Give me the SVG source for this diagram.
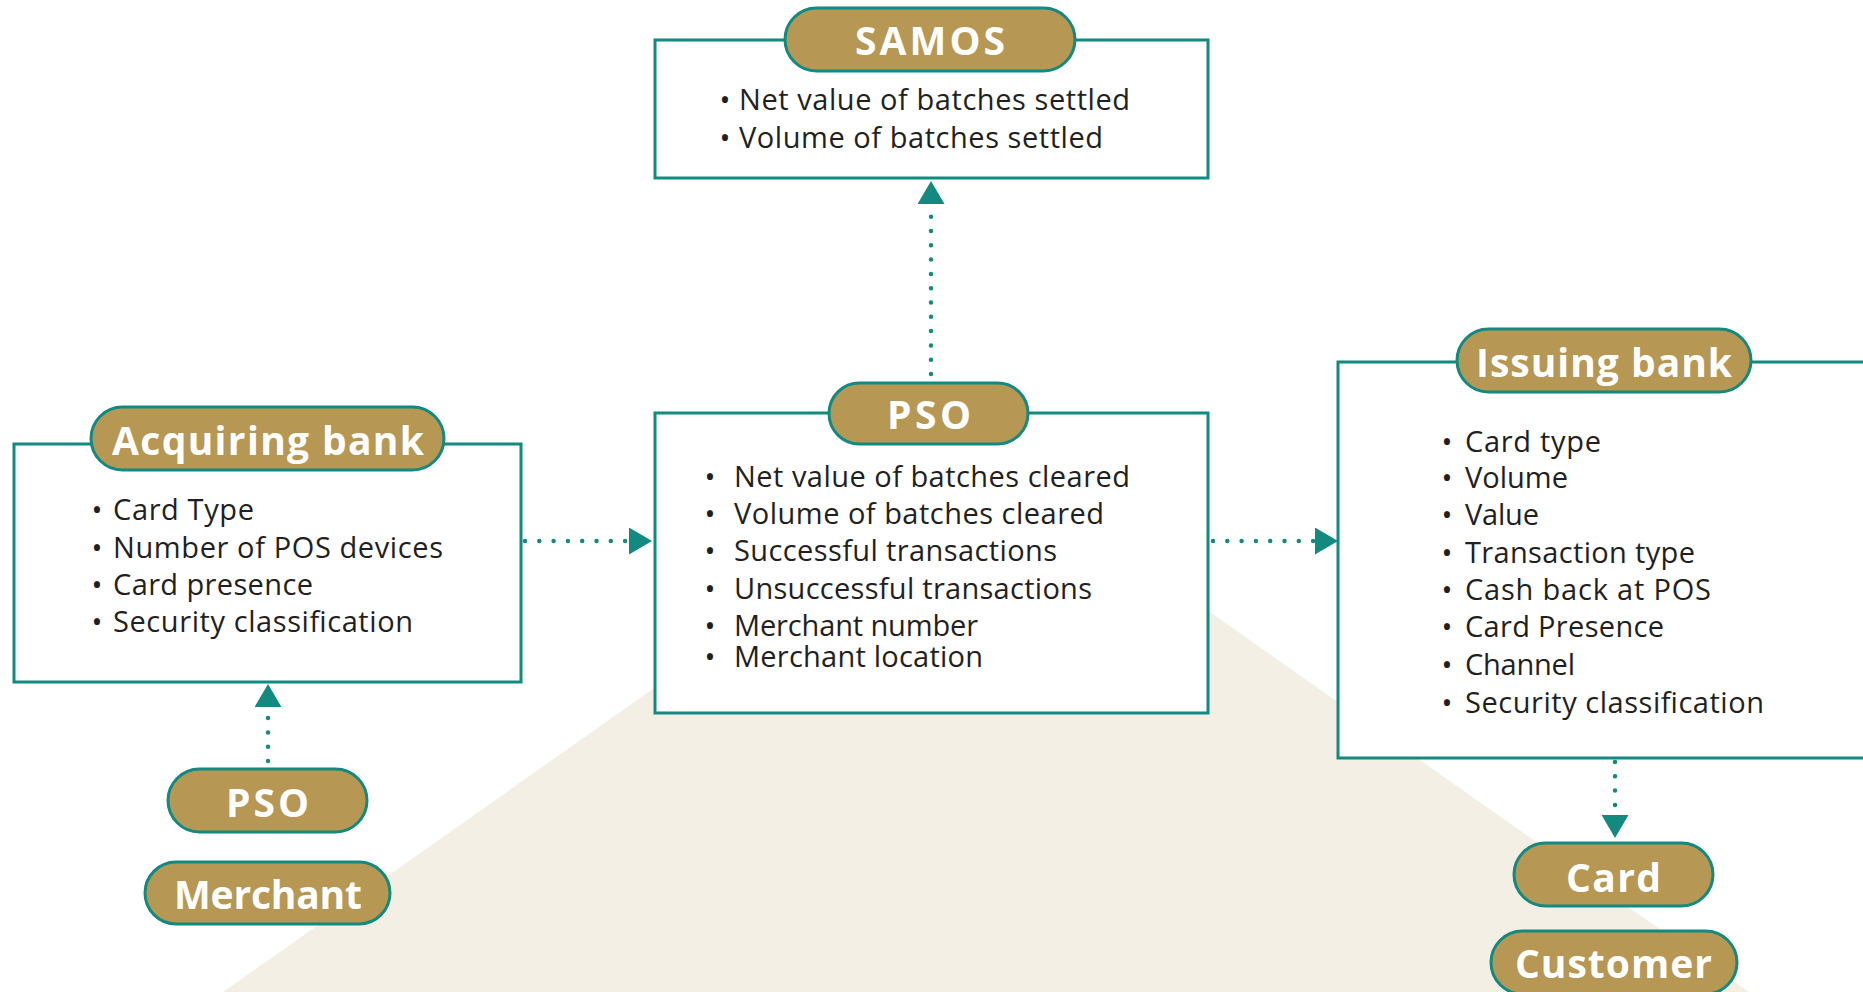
<svg xmlns="http://www.w3.org/2000/svg" width="1863" height="992" viewBox="0 0 1863 992">
<defs>
<style>
.box{fill:#ffffff;stroke:#138a80;stroke-width:3}
.pill{fill:#b69753;stroke:#138a80;stroke-width:3}
.title{font-family:"Open Sans","Liberation Sans",sans-serif;font-weight:700;font-size:39px;fill:#ffffff}
.item{font-family:"Open Sans","Liberation Sans",sans-serif;font-size:29px;fill:#231f20}
.bul{font-family:"Open Sans","Liberation Sans",sans-serif;font-size:29px;fill:#231f20;text-anchor:middle}
.dots{fill:none;stroke:#138a80;stroke-width:4.5;stroke-linecap:round;stroke-dasharray:0 14.3;marker-end:url(#ah)}
</style>
<marker id="ah" viewBox="0 0 23 27" refX="0" refY="13.5" markerWidth="23" markerHeight="27" markerUnits="userSpaceOnUse" orient="auto">
<path d="M0,0 L23,13.5 L0,27 Z" fill="#138a80"/>
</marker>
</defs>
<rect width="1863" height="992" fill="#ffffff"/>
<polygon points="223,992 986,454 1749,992" fill="#f3efe5"/>

<g id="samos">
<rect class="box" x="655" y="40" width="553" height="138"/>
<rect class="pill" x="785" y="8" width="290" height="63" rx="31.5"/>
<text class="title" x="855" y="55" textLength="150">SAMOS</text>
<text class="bul" x="725" y="110">•</text>
<text class="item" x="739" y="110" textLength="391">Net value of batches settled</text>
<text class="bul" x="725" y="148">•</text>
<text class="item" x="739" y="148" textLength="364">Volume of batches settled</text>
</g>

<g id="pso-center">
<rect class="box" x="655" y="413" width="553" height="300"/>
<rect class="pill" x="829" y="383" width="199" height="61" rx="30.5"/>
<text class="title" x="887" y="429" textLength="84">PSO</text>
<text class="bul" x="710" y="487">•</text>
<text class="item" x="734" y="487" textLength="396">Net value of batches cleared</text>
<text class="bul" x="710" y="524">•</text>
<text class="item" x="734" y="524" textLength="370">Volume of batches cleared</text>
<text class="bul" x="710" y="561">•</text>
<text class="item" x="734" y="561" textLength="323">Successful transactions</text>
<text class="bul" x="710" y="599">•</text>
<text class="item" x="734" y="599" textLength="358">Unsuccessful transactions</text>
<text class="bul" x="710" y="636">•</text>
<text class="item" x="734" y="636" textLength="244">Merchant number</text>
<text class="bul" x="710" y="667">•</text>
<text class="item" x="734" y="667" textLength="249">Merchant location</text>
</g>

<g id="acquiring">
<rect class="box" x="14" y="444" width="507" height="238"/>
<rect class="pill" x="91" y="407" width="353" height="63" rx="31.5"/>
<text class="title" x="112" y="455" textLength="312">Acquiring bank</text>
<text class="bul" x="97" y="520">•</text>
<text class="item" x="113" y="520" textLength="141">Card Type</text>
<text class="bul" x="97" y="558">•</text>
<text class="item" x="113" y="558" textLength="330">Number of POS devices</text>
<text class="bul" x="97" y="595">•</text>
<text class="item" x="113" y="595" textLength="200">Card presence</text>
<text class="bul" x="97" y="632">•</text>
<text class="item" x="113" y="632" textLength="300">Security classification</text>
</g>

<g id="issuing">
<rect class="box" x="1338" y="362" width="560" height="396"/>
<rect class="pill" x="1457" y="329" width="294" height="63" rx="31.5"/>
<text class="title" x="1476" y="377" textLength="256">Issuing bank</text>
<text class="bul" x="1447" y="452">•</text>
<text class="item" x="1465" y="452" textLength="136">Card type</text>
<text class="bul" x="1447" y="488">•</text>
<text class="item" x="1465" y="488" textLength="103">Volume</text>
<text class="bul" x="1447" y="525">•</text>
<text class="item" x="1465" y="525" textLength="74">Value</text>
<text class="bul" x="1447" y="563">•</text>
<text class="item" x="1465" y="563" textLength="230">Transaction type</text>
<text class="bul" x="1447" y="600">•</text>
<text class="item" x="1465" y="600" textLength="246">Cash back at POS</text>
<text class="bul" x="1447" y="637">•</text>
<text class="item" x="1465" y="637" textLength="199">Card Presence</text>
<text class="bul" x="1447" y="675">•</text>
<text class="item" x="1465" y="675" textLength="110">Channel</text>
<text class="bul" x="1447" y="713">•</text>
<text class="item" x="1465" y="713" textLength="299">Security classification</text>
</g>

<g id="pso-small">
<rect class="pill" x="168" y="769" width="199" height="63" rx="31.5"/>
<text class="title" x="226" y="817" textLength="83">PSO</text>
</g>

<g id="merchant">
<rect class="pill" x="145" y="862" width="245" height="62" rx="31"/>
<text class="title" x="174" y="909" textLength="188">Merchant</text>
</g>

<g id="card">
<rect class="pill" x="1514" y="843" width="199" height="63" rx="31.5"/>
<text class="title" x="1566" y="892" textLength="95">Card</text>
</g>

<g id="customer">
<rect class="pill" x="1491" y="931" width="246" height="63" rx="31.5"/>
<text class="title" x="1515" y="978" textLength="197">Customer</text>
</g>

<g id="connectors">
<path class="dots" d="M931,374 L931,204"/>
<path class="dots" d="M525,541 L629,541"/>
<path class="dots" d="M1213,541 L1315,541"/>
<path class="dots" d="M268,761 L268,707"/>
<path class="dots" d="M1615,762 L1615,815"/>
</g>
</svg>
